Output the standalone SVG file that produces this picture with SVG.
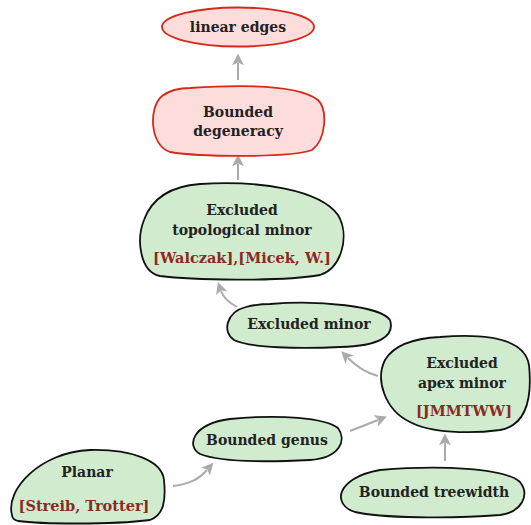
<svg xmlns="http://www.w3.org/2000/svg" width="531" height="525" viewBox="0 0 531 525">
  <style>
    .red { fill: #fddcdc; stroke: #d42a1a; stroke-width: 1.8; }
    .green { fill: #d1ebcf; stroke: #111; stroke-width: 1.8; }
    text { font-family: "DejaVu Serif", "Liberation Serif", serif; font-weight: bold; font-size: 14px; fill: #222; text-anchor: middle; dominant-baseline: central; }
    text.ref { fill: #8b2a1f; font-size: 14.5px; }
    .edge { fill: none; stroke: #aaa; stroke-width: 2; marker-end: url(#arr); }
  </style>
  <defs>
    <marker id="arr" viewBox="0 0 10 10" refX="2" refY="5" markerWidth="6" markerHeight="6" orient="auto" markerUnits="strokeWidth">
      <path d="M0,0 L10,5 L0,10 L2.5,5 Z" fill="#aaa"/>
    </marker>
  </defs>

  <g id="edges">
    <path class="edge" d="M238,80 L238,63"/>
    <path class="edge" d="M238,180 L238,164"/>
    <path class="edge" d="M237,307 C228,302 223,297 221,291"/>
    <path class="edge" d="M378,376 C366,373 356,366 348,358"/>
    <path class="edge" d="M350,431 L378,420"/>
    <path class="edge" d="M173,486 C190,484 199,479 207,470"/>
    <path class="edge" d="M445,461 L445,443"/>
  </g>

  <g id="linear-edges">
    <ellipse class="red" cx="238" cy="27" rx="76" ry="19.5"/>
    <text x="238" y="27">linear edges</text>
  </g>

  <g id="bounded-degeneracy">
    <path class="red" d="M190,88 C250,84 300,86 318,100 C328,110 326,140 312,150 C290,158 200,157 170,152 C150,146 148,108 162,96 C170,90 180,88 190,88 Z"/>
    <text x="238" y="112">Bounded</text>
    <text x="238" y="131">degeneracy</text>
  </g>

  <g id="excluded-topological-minor">
    <path class="green" d="M200,184 C260,180 320,190 338,215 C350,235 342,268 320,275 C280,282 190,280 160,276 C140,272 136,240 144,220 C152,198 172,186 200,184 Z"/>
    <text x="242" y="210">Excluded</text>
    <text x="242" y="230">topological minor</text>
    <text class="ref" x="242" y="257">[Walczak],[Micek, W.]</text>
  </g>

  <g id="excluded-minor">
    <path class="green" d="M270,304 C320,300 380,306 390,320 C395,336 380,346 340,347 C300,349 250,348 234,340 C222,332 226,312 246,307 C254,305 262,304 270,304 Z"/>
    <text x="309" y="324">Excluded minor</text>
  </g>

  <g id="excluded-apex-minor">
    <path class="green" d="M440,337 C490,333 525,340 529,365 C532,395 528,425 500,430 C470,434 430,433 410,422 C385,410 375,380 385,360 C395,343 420,338 440,337 Z"/>
    <text x="462" y="363">Excluded</text>
    <text x="462" y="383">apex minor</text>
    <text class="ref" x="464" y="410">[JMMTWW]</text>
  </g>

  <g id="bounded-genus">
    <path class="green" d="M230,419 C280,414 325,418 338,428 C347,440 340,458 310,460 C270,462 220,462 200,454 C186,446 192,424 230,419 Z"/>
    <text x="267" y="440">Bounded genus</text>
  </g>

  <g id="planar">
    <path class="green" d="M12,515 C5,490 40,452 90,450 C130,449 162,460 164,480 C166,500 164,515 150,520 C110,525 40,524 18,521 C14,520 12,518 12,515 Z"/>
    <text x="87" y="472">Planar</text>
    <text class="ref" x="84" y="505">[Streib, Trotter]</text>
  </g>

  <g id="bounded-treewidth">
    <path class="green" d="M380,470 C440,465 505,468 520,482 C530,495 522,512 500,515 C450,519 380,518 355,512 C332,505 335,478 380,470 Z"/>
    <text x="434" y="492">Bounded treewidth</text>
  </g>
</svg>
